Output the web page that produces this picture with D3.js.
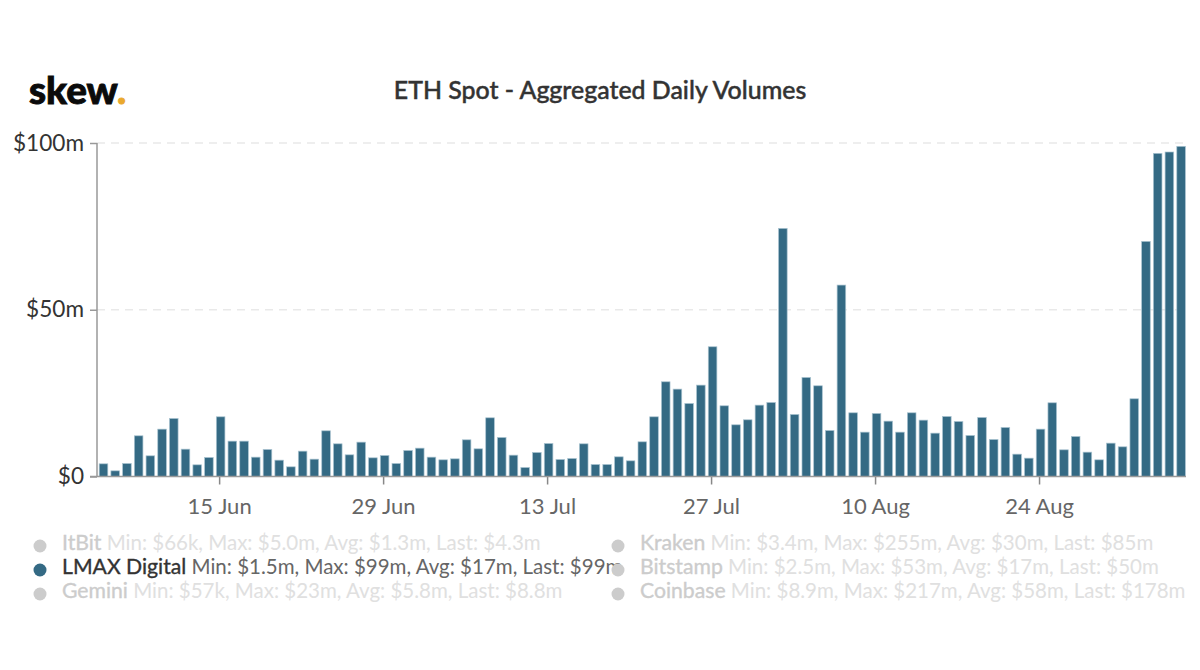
<!DOCTYPE html>
<html>
<head>
<meta charset="utf-8">
<script src="https://cdn.jsdelivr.net/npm/d3@7"></script>
<style>
  html, body { margin: 0; background: #fff; }
  svg { display: block; font-family: Lato, sans-serif; }
  .tick text { font-family: Lato, sans-serif; }
</style>
</head>
<body>
<div class="container"></div>
<script>
const firstDay = "2020-06-05";
const lastDay = "2020-09-05";

const volumes = [
  3.8, 1.7, 3.9, 12.2, 6.2, 14.2, 17.4, 8.2, 3.5, 5.7,
  17.9, 10.6, 10.6, 5.8, 8.1, 4.9, 2.9, 7.6, 5.2, 13.7,
  9.8, 6.5, 10.3, 5.6, 6.3, 3.9, 7.8, 8.5, 5.8, 5.0,
  5.3, 11.0, 8.3, 17.6, 11.7, 6.4, 2.7, 7.2, 9.9, 5.1,
  5.4, 9.8, 3.6, 3.6, 5.9, 4.7, 10.4, 17.9, 28.4, 26.2,
  21.9, 27.4, 38.9, 21.2, 15.5, 17.0, 21.4, 22.2, 74.4, 18.6,
  29.7, 27.2, 13.8, 57.4, 19.1, 13.3, 18.9, 16.6, 13.3, 19.1,
  16.9, 13.0, 18.0, 16.5, 12.3, 17.7, 11.1, 14.7, 6.7, 5.5,
  14.2, 22.1, 8.0, 12.0, 7.3, 5.0, 10.0, 8.9, 23.3, 70.5,
  96.9, 97.3, 99.0
];

const xTickDates = ["2020-06-15", "2020-06-29", "2020-07-13", "2020-07-27", "2020-08-10", "2020-08-24"];
const xTickLabels = ["15 Jun", "29 Jun", "13 Jul", "27 Jul", "10 Aug", "24 Aug"];
const yTicks = [0, 50, 100];
const yTickLabels = ["$0", "$50m", "$100m"];

const legendNames = ["ItBit", "LMAX Digital", "Gemini", "Kraken", "Bitstamp", "Coinbase"];
const legendStats = [
  "Min: $66k, Max: $5.0m, Avg: $1.3m, Last: $4.3m",
  "Min: $1.5m, Max: $99m, Avg: $17m, Last: $99m",
  "Min: $57k, Max: $23m, Avg: $5.8m, Last: $8.8m",
  "Min: $3.4m, Max: $255m, Avg: $30m, Last: $85m",
  "Min: $2.5m, Max: $53m, Avg: $17m, Last: $50m",
  "Min: $8.9m, Max: $217m, Avg: $58m, Last: $178m"
];
const activeSeries = "LMAX Digital";

const width = 1200;
const height = 670;
const barColor = "#346a84";

const svg = d3.select(".container").append("svg").attr("width", width).attr("height", height);

const days = d3.utcDay.range(new Date(firstDay), d3.utcDay.offset(new Date(lastDay), 1));

const x = d3.scaleUtc().domain([new Date(firstDay), new Date(lastDay)]).range([102, 1179.6]);
const y = d3.scaleLinear().domain([0, 100]).range([476.5, 143]);

// logo
const logo = svg.append("text").attr("x", 29).attr("y", 104)
  .attr("font-size", 38.6).attr("font-weight", 900).attr("fill", "#0b0b0b")
  .attr("stroke", "#0b0b0b").attr("stroke-width", 0.9);
logo.append("tspan").text("skew");
logo.append("tspan").attr("fill", "#eaa92e").attr("stroke", "#eaa92e").text(".");

svg.append("text").attr("x", 600).attr("y", 99).attr("text-anchor", "middle")
  .attr("font-size", 24.9).attr("font-weight", 500).attr("fill", "#333")
  .attr("stroke", "#333").attr("stroke-width", 0.45)
  .text("ETH Spot - Aggregated Daily Volumes");

// grid
svg.append("g").selectAll("line").data(yTicks.filter(d => d > 0)).enter().append("line")
  .attr("x1", 97).attr("x2", 1185)
  .attr("y1", d => y(d)).attr("y2", d => y(d))
  .attr("stroke", "#e9e9e9").attr("stroke-width", 1.6).attr("stroke-dasharray", "8 6");

// bars
const barWidth = 8.6;
svg.append("g").attr("class", "bars").selectAll("rect").data(volumes).enter().append("rect")
  .attr("x", (d, i) => x(days[i]) + 1.5 - barWidth / 2)
  .attr("y", d => y(d))
  .attr("width", barWidth)
  .attr("height", d => y(0) - y(d))
  .attr("fill", barColor)
  .attr("stroke", "#a9c3d0").attr("stroke-width", 0.7);

// axes
const xAxis = d3.axisBottom(x)
  .tickValues(xTickDates.map(d => new Date(d)))
  .tickFormat((d, i) => xTickLabels[i])
  .tickSize(8).tickPadding(14);
const gx = svg.append("g").attr("transform", `translate(0,${y(0)})`).call(xAxis);
gx.select(".domain").remove();
gx.selectAll(".tick line").attr("stroke", "#888").attr("stroke-width", 1.5);
gx.selectAll(".tick text").attr("font-size", 22).attr("fill", "#666").attr("dy", "0.71em");

const yAxis = d3.axisLeft(y)
  .tickValues(yTicks)
  .tickFormat((d, i) => yTickLabels[i])
  .tickSize(7).tickPadding(6);
const gy = svg.append("g").attr("transform", "translate(97,0)").call(yAxis);
gy.select(".domain").remove();
gy.selectAll(".tick line").attr("stroke", "#999").attr("stroke-width", 1.5);
gy.selectAll(".tick text").attr("font-size", 22.6).attr("fill", "#333");

svg.append("line").attr("x1", 97).attr("x2", 97).attr("y1", y(100)).attr("y2", y(0))
  .attr("stroke", "#999").attr("stroke-width", 1.5);
svg.append("line").attr("x1", 90).attr("x2", 1186).attr("y1", y(0)).attr("y2", y(0))
  .attr("stroke", "#999").attr("stroke-width", 1.6);

// legend, filled down the columns
const legend = svg.append("g").selectAll("g").data(legendNames).enter().append("g")
  .attr("transform", (d, i) => `translate(${i < 3 ? 40 : 618},${546 + (i % 3) * 24})`);
legend.append("circle").attr("r", 6.5)
  .attr("fill", d => d === activeSeries ? barColor : "#ccc");
const label = legend.append("text").attr("x", 22).attr("y", 0).attr("dy", "0.2em")
  .attr("font-size", 20.5);
label.append("tspan").attr("font-size", 21.2)
  .attr("fill", d => d === activeSeries ? "#333" : "#ccc")
  .attr("stroke", d => d === activeSeries ? "#333" : "#ccc").attr("stroke-width", 0.35)
  .text(d => d);
label.append("tspan").attr("fill", d => d === activeSeries ? "#666" : "#e0e0e0")
  .text((d, i) => " " + legendStats[i]);
</script>
</body>
</html>
